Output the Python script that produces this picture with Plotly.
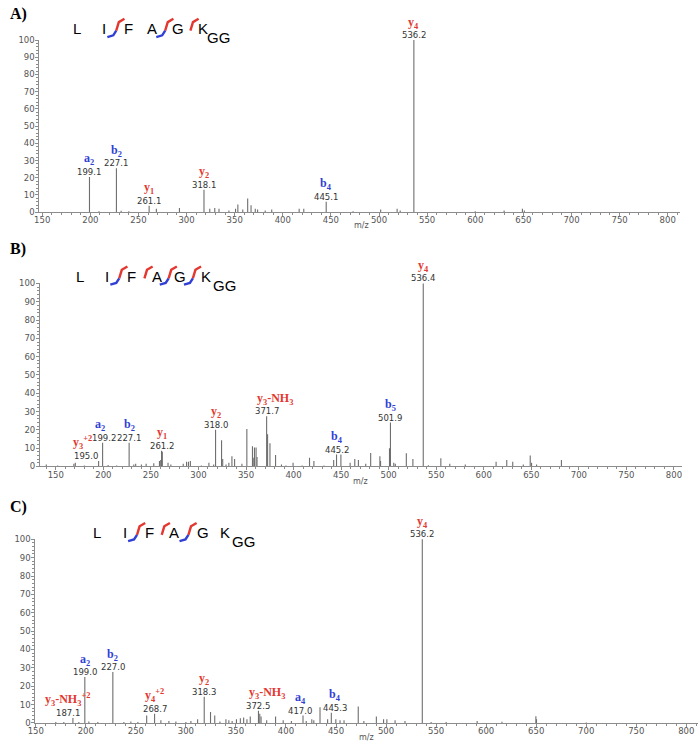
import plotly.graph_objects as go

# ---------------- data (m/z, relative intensity %) ----------------
A_MZ = [199.1, 209, 227.1, 232, 240, 261.1, 268.6, 292.6, 318.1, 324.1, 329.3, 333.7, 344, 350.9, 353.3,
        358.4, 363.5, 367, 371.4, 373.8, 381.7, 388.5, 417, 421.8, 445.1, 473, 501.7, 518.8, 522, 536.2,
        600, 630, 649, 651]
A_INT = [20.5, 0.5, 25.5, 0.8, 0.6, 3.8, 2, 2.5, 13, 2, 2.5, 2, 1, 2, 4.5,
         1.5, 8, 4, 2, 1.5, 1, 1.5, 2, 2, 6, 0.6, 1.5, 2, 1, 100,
         0.5, 1, 2, 1]
# m/z, ion, series (b = N-terminal, y = C-terminal), x shift of ion label, x shift of m/z text
A_LABELS = [(199.1, "a<sub>2</sub>", "b", 0, 0), (227.1, "b<sub>2</sub>", "b", 0, 0),
            (261.1, "y<sub>1</sub>", "y", 0, 0), (318.1, "y<sub>2</sub>", "y", 0, 0),
            (445.1, "b<sub>4</sub>", "b", 0, 0), (536.2, "y<sub>4</sub>", "y", 0, 0)]
A_YCUTS = [2, 4, 5]
A_BCUTS = [2, 4]

B_MZ = [140, 152, 169, 170.5, 180, 195.0, 199.2, 205, 214, 227.1, 232, 234, 240, 245, 253, 259, 260.3,
        261.2, 262, 268, 271, 284, 287.5, 289.5, 291.5, 303, 311, 316, 318.0, 324.3, 325.5, 329, 332,
        335.2, 338, 345.7, 350.9, 356.8, 358.2, 358.9, 360.6, 361.6, 371.7, 372.7, 375.2, 381.1, 387.3,
        392, 399.5, 409, 416.8, 421.4, 432, 442.2, 445.2, 449.8, 459.5, 464.4, 468.2, 475.9, 481.1,
        490.8, 491.5, 500.9, 501.9, 505.4, 507, 518.6, 525.5, 536.4, 541.8, 554.9, 564.3, 580.6, 613,
        624.2, 630.5, 641.6, 648.9, 650.3, 655.6, 681.7]
B_INT = [1, 0.5, 1.5, 2, 0.5, 3, 13, 0.8, 0.5, 13, 1, 1.5, 1, 1.5, 1.8, 3, 3.5,
         8.5, 8, 2, 1, 1.5, 2.5, 2.5, 3, 0.5, 2, 1, 20, 14.3, 4, 1, 2,
         5.5, 4, 1.5, 20.5, 11, 4.7, 10.4, 10.4, 5.2, 27.4, 17.6, 12.7, 6.3, 1,
         0.5, 2, 0.5, 4.7, 3, 0.5, 3.5, 6.5, 6.5, 2, 4, 3.5, 1.5, 7.3,
         5.5, 3, 10, 24, 2, 1.5, 7.2, 4, 100, 0.7, 4.5, 1.5, 1, 2.5,
         3.5, 2.5, 1, 6, 2, 1, 3.5]
B_LABELS = [(195.0, "y<sub>3</sub><sup>+2</sup>", "y", -16, -13), (199.2, "a<sub>2</sub>", "b", -3, 1),
            (227.1, "b<sub>2</sub>", "b", 0, 0), (261.2, "y<sub>1</sub>", "y", 0, 0),
            (318.0, "y<sub>2</sub>", "y", 0, 0), (371.7, "y<sub>3</sub>-NH<sub>3</sub>", "y", 8, 0),
            (445.2, "b<sub>4</sub>", "b", 0, 0), (501.9, "b<sub>5</sub>", "b", 0, 0),
            (536.4, "y<sub>4</sub>", "y", 0, 0)]
B_YCUTS = [2, 3, 4, 5]
B_BCUTS = [2, 4, 5]

C_MZ = [170, 178, 187.1, 193, 199.0, 203, 212, 227.0, 238, 245, 252, 260.8, 268.7, 275, 283, 290, 300,
        305, 311.7, 318.3, 324.6, 328.8, 334, 340, 342.9, 346.2, 350.5, 354.4, 357.7, 361, 364.3, 372.5,
        373.8, 375.1, 380.7, 389.6, 397.2, 405.4, 417.0, 420.2, 425.8, 427.8, 434, 441.6, 445.3, 449.8,
        454, 458, 472.2, 477.8, 490.3, 497.5, 500.8, 509, 518.9, 536.2, 545, 560, 591, 615.8, 649.7,
        650.3, 700]
C_INT = [0.5, 0.5, 2.7, 0.5, 25, 0.8, 0.5, 27.7, 0.5, 0.8, 0.5, 4, 5, 1.5, 1, 0.8, 0.5,
         1, 2, 14.3, 6, 4, 0.8, 2, 1.5, 1, 2, 2.5, 3, 2, 3.5, 6.6,
         5, 3.5, 1.5, 3.5, 1.5, 1, 4, 1, 2, 1.5, 8.6, 2, 5.5, 2,
         1.5, 1.5, 9, 1, 3.5, 2, 2, 1.5, 1, 100, 0.5, 0.5, 1, 0.7, 3.7,
         2, 0.3]
C_LABELS = [(187.1, "y<sub>3</sub>-NH<sub>3</sub><sup>+2</sup>", "y", -5, -5), (199.0, "a<sub>2</sub>", "b", 0, 0),
            (227.0, "b<sub>2</sub>", "b", 0, 0), (268.7, "y<sub>4</sub><sup>+2</sup>", "y", 0, 0),
            (318.3, "y<sub>2</sub>", "y", 0, 0), (372.5, "y<sub>3</sub>-NH<sub>3</sub>", "y", 9, 0),
            (417.0, "a<sub>4</sub>", "b", -3, -3), (445.3, "b<sub>4</sub>", "b", 4, 4),
            (536.2, "y<sub>4</sub>", "y", 0, 0)]
C_YCUTS = [2, 3, 4]
C_BCUTS = [2, 4]

RESIDUES = ["L", "I", "F", "A", "G", "K"]

# ---------------- layout helpers ----------------
W, H = 700, 745
RED = "#e3372f"
BLUE = "#3140d4"
AXIS = "#8c8c8c"


def px(x):
    return x / W


def py(y):
    return 1 - y / H


panels = [
    dict(tag="A)", mz=A_MZ, inten=A_INT, labels=A_LABELS, ycuts=A_YCUTS, bcuts=A_BCUTS,
         xdom=(31.7, 680), ydom=(210, 35), xrange=(147, 813), tag_y=9, mz_title=(358, 223),
         seq_y=24, letters=[70, 97, 122, 146, 172, 197], gg=(213, 33)),
    dict(tag="B)", mz=B_MZ, inten=B_INT, labels=B_LABELS, ycuts=B_YCUTS, bcuts=B_BCUTS,
         xdom=(32.3, 681.7), ydom=(467.7, 281.7), xrange=(133.3, 808.4), tag_y=247, mz_title=(357, 483),
         seq_y=275, letters=[73, 100, 125, 151, 174, 200], gg=(219, 284)),
    dict(tag="C)", mz=C_MZ, inten=C_INT, labels=C_LABELS, ycuts=C_YCUTS, bcuts=C_BCUTS,
         xdom=(27.7, 698.3), ydom=(727.7, 541), xrange=(149.6, 812), tag_y=509, mz_title=(363, 742),
         seq_y=535, letters=[90, 118, 143, 168, 197, 220], gg=(238, 544)),
]

fig = go.Figure()
annotations = []
shapes = []

for i, p in enumerate(panels):
    n = "" if i == 0 else str(i + 1)
    xs, ys = [], []
    for m, h in zip(p["mz"], p["inten"]):
        xs += [m, m, None]
        ys += [0, h, None]
    fig.add_trace(go.Scatter(x=xs, y=ys, mode="lines", line=dict(color="#6e6e6e", width=1.1),
                             xaxis="x" + n, yaxis="y" + n, hoverinfo="skip", showlegend=False))

    tickfont = dict(family="DejaVu Sans", size=8.5, color="#555555")
    fig.layout["xaxis" + n] = dict(
        domain=[px(p["xdom"][0]), px(p["xdom"][1])], range=list(p["xrange"]), anchor="y" + n,
        showline=True, linecolor=AXIS, linewidth=1, ticks="outside", ticklen=3, tickcolor=AXIS,
        tick0=0, dtick=50, showgrid=False, zeroline=False, tickfont=tickfont, fixedrange=True,
        ticklabelstandoff=-3,
        minor=dict(dtick=10, ticks="outside", ticklen=2, tickcolor=AXIS, showgrid=False))
    fig.layout["yaxis" + n] = dict(
        domain=[py(p["ydom"][0]), py(p["ydom"][1])], range=[0, 100.3], anchor="x" + n,
        showline=True, linecolor=AXIS, linewidth=1, ticks="outside", ticklen=3, tickcolor=AXIS,
        tick0=0, dtick=10, showgrid=False, zeroline=False, tickfont=tickfont, fixedrange=True,
        ticklabelstandoff=-1,
        minor=dict(dtick=2, ticks="outside", ticklen=2, tickcolor=AXIS, showgrid=False))

    # peak annotations
    lookup = dict(zip(p["mz"], p["inten"]))
    for m, ion, kind, dx_ion, dx_mz in p["labels"]:
        h = lookup[m]
        annotations.append(dict(x=m, y=h, xref="x" + n, yref="y" + n, text=f"{m:.1f}", showarrow=False,
                                yanchor="bottom", yshift=-1, xshift=dx_mz, borderpad=0,
                                font=dict(family="DejaVu Sans", size=8.5, color="#333333")))
        annotations.append(dict(x=m, y=h, xref="x" + n, yref="y" + n, text=f"<b>{ion}</b>", showarrow=False,
                                yanchor="bottom", yshift=8.5, xshift=dx_ion, borderpad=0,
                                font=dict(family="Liberation Serif", size=12,
                                          color=BLUE if kind == "b" else RED)))

    # panel tag and m/z title
    annotations.append(dict(x=0, y=py(p["tag_y"]), xref="paper", yref="paper", text=f"<b>{p['tag']}</b>",
                            showarrow=False, xanchor="left", yanchor="middle",
                            font=dict(family="Liberation Serif", size=16, color="black")))
    annotations.append(dict(x=px(p["mz_title"][0]), y=py(p["mz_title"][1]), xref="paper", yref="paper",
                            text="m/z", showarrow=False, xanchor="center", yanchor="middle",
                            font=dict(family="DejaVu Sans", size=8, color="#555555")))

    # peptide sequence with fragmentation marks
    for x, r in zip(p["letters"], RESIDUES):
        annotations.append(dict(x=px(x), y=py(p["seq_y"]), xref="paper", yref="paper", text=r, showarrow=False,
                                xanchor="center", yanchor="middle",
                                font=dict(family="Liberation Sans", size=15, color="black")))
    annotations.append(dict(x=px(p["gg"][0]), y=py(p["gg"][1]), xref="paper", yref="paper", text="GG",
                            showarrow=False, xanchor="center", yanchor="middle",
                            font=dict(family="Liberation Sans", size=15, color="black")))
    cy = p["seq_y"] + 2
    for k in range(1, len(RESIDUES)):
        cx = (p["letters"][k - 1] + p["letters"][k]) / 2
        if k in p["ycuts"]:
            pts = [(cx, cy), (cx + 2.6, cy - 8.6), (cx + 8.3, cy - 12)]
            path = "M " + " L ".join(f"{px(a)},{py(b)}" for a, b in pts)
            shapes.append(dict(type="path", xref="paper", yref="paper", path=path,
                               line=dict(color=RED, width=2.4)))
        if k in p["bcuts"]:
            pts = [(cx, cy), (cx - 3, cy + 4.7), (cx - 9, cy + 6.5)]
            path = "M " + " L ".join(f"{px(a)},{py(b)}" for a, b in pts)
            shapes.append(dict(type="path", xref="paper", yref="paper", path=path,
                               line=dict(color=BLUE, width=2.4)))

fig.update_layout(width=W, height=H, margin=dict(l=0, r=0, t=0, b=0), plot_bgcolor="white",
                  paper_bgcolor="white", annotations=annotations, shapes=shapes, showlegend=False)

# the default page has an 8px body margin; drop it so the figure fills the window
fig.write_html("out.html", config={"displayModeBar": False},
               post_script="document.body.style.margin='0px';")
